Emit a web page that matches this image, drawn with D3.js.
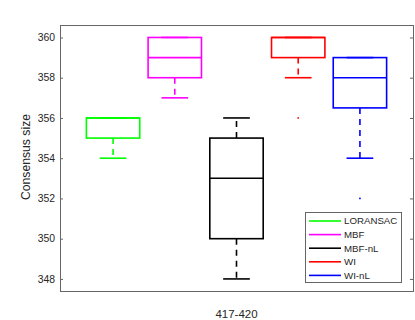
<!DOCTYPE html>
<html>
<head>
<meta charset="utf-8">
<script src="https://cdn.jsdelivr.net/npm/d3@7"></script>
<style>
  body { margin: 0; background: #fff; }
  text { font-family: "Liberation Sans", Arial, sans-serif; fill: #262626; }
</style>
</head>
<body>
<main></main>
<script>
// data
const methods = ['LORANSAC', 'MBF', 'MBF-nL', 'WI', 'WI-nL'];
const colors = ['#00ff00', '#ff00ff', '#000000', '#ff0000', '#0000ff'];
const whiskerLow = [354, 357, 348, 358, 354];
const q1 = [355, 358, 350, 359, 356.5];
const median = [356, 359, 353, 360, 358];
const q3 = [356, 360, 355, 360, 359];
const whiskerHigh = [356, 360, 356, 360, 359];
const outliers = [[], [], [], [356], [352]];
const yTicks = [348, 350, 352, 354, 356, 358, 360];
const groupLabel = '417-420';

const size = { width: 415, height: 320 };
const plot = { left: 60, right: 413, top: 25, bottom: 291 };

const svg = d3.select('main').append('svg')
    .attr('width', size.width)
    .attr('height', size.height);

const xScale = d3.scalePoint()
    .domain(methods)
    .range([plot.left, plot.right])
    .padding(0.86);
const yScale = d3.scaleLinear()
    .domain([347.4, 360.62])
    .range([plot.bottom, plot.top]);

const boxW = xScale.step() * 0.865;
const capW = boxW / 2;

// axes: left with labels, right ticks only, inward ticks
const left = svg.append('g')
    .attr('transform', `translate(${plot.left},0)`)
    .call(d3.axisRight(yScale).tickValues(yTicks).tickSize(3).tickFormat(''));
left.selectAll('.domain').remove();
left.selectAll('line').attr('stroke', '#666');

yTicks.forEach(t => {
  svg.append('text')
      .attr('x', plot.left - 5)
      .attr('y', yScale(t))
      .attr('dy', '0.35em')
      .attr('text-anchor', 'end')
      .attr('font-size', 10.4)
      .text(t);
});

const right = svg.append('g')
    .attr('transform', `translate(${plot.right},0)`)
    .call(d3.axisLeft(yScale).tickValues(yTicks).tickSize(3).tickFormat(''));
right.selectAll('.domain').remove();
right.selectAll('line').attr('stroke', '#666');

svg.append('rect')
    .attr('x', plot.left + 0.5)
    .attr('y', plot.top + 0.5)
    .attr('width', plot.right - plot.left)
    .attr('height', plot.bottom - plot.top)
    .attr('fill', 'none')
    .attr('stroke', '#666')
    .attr('stroke-width', 1);

// boxes
methods.forEach((m, i) => {
  const cx = xScale(m);
  const g = svg.append('g').attr('stroke', colors[i]).attr('stroke-width', 1.6).attr('fill', 'none');
  // whiskers
  if (whiskerLow[i] < q1[i]) {
    g.append('line').attr('x1', cx).attr('x2', cx)
        .attr('y1', yScale(q1[i])).attr('y2', yScale(whiskerLow[i]))
        .attr('stroke-dasharray', '6,5');
  }
  if (whiskerHigh[i] > q3[i]) {
    g.append('line').attr('x1', cx).attr('x2', cx)
        .attr('y1', yScale(q3[i])).attr('y2', yScale(whiskerHigh[i]))
        .attr('stroke-dasharray', '6,5');
  }
  g.append('line').attr('x1', cx - capW / 2).attr('x2', cx + capW / 2)
      .attr('y1', yScale(whiskerLow[i])).attr('y2', yScale(whiskerLow[i]));
  g.append('line').attr('x1', cx - capW / 2).attr('x2', cx + capW / 2)
      .attr('y1', yScale(whiskerHigh[i])).attr('y2', yScale(whiskerHigh[i]));
  g.append('rect')
      .attr('x', cx - boxW / 2)
      .attr('y', yScale(q3[i]))
      .attr('width', boxW)
      .attr('height', yScale(q1[i]) - yScale(q3[i]));
  g.append('line').attr('x1', cx - boxW / 2).attr('x2', cx + boxW / 2)
      .attr('y1', yScale(median[i])).attr('y2', yScale(median[i]));
  outliers[i].forEach(o => {
    svg.append('circle')
        .attr('cx', cx).attr('cy', yScale(o)).attr('r', 0.9)
        .attr('fill', colors[i]);
  });
});

// labels
svg.append('text')
    .attr('x', (plot.left + plot.right) / 2)
    .attr('y', 318)
    .attr('text-anchor', 'middle')
    .attr('font-size', 11.5)
    .text(groupLabel);

svg.append('text')
    .attr('transform', `translate(30,${(plot.top + plot.bottom) / 2 - 1}) rotate(-90)`)
    .attr('text-anchor', 'middle')
    .attr('font-size', 12.2)
    .text('Consensus size');

// legend
const legend = svg.append('g');
legend.append('rect')
    .attr('x', 305.5).attr('y', 212.5)
    .attr('width', 96).attr('height', 70)
    .attr('fill', '#fff').attr('stroke', '#666');
methods.forEach((m, i) => {
  const y = 221 + i * 13.6;
  legend.append('line')
      .attr('x1', 309).attr('x2', 341)
      .attr('y1', y).attr('y2', y)
      .attr('stroke', colors[i]).attr('stroke-width', 1.6);
  legend.append('text')
      .attr('x', 344).attr('y', y)
      .attr('dy', '0.35em')
      .attr('font-size', 9.7)
      .text(m);
});
</script>
</body>
</html>
